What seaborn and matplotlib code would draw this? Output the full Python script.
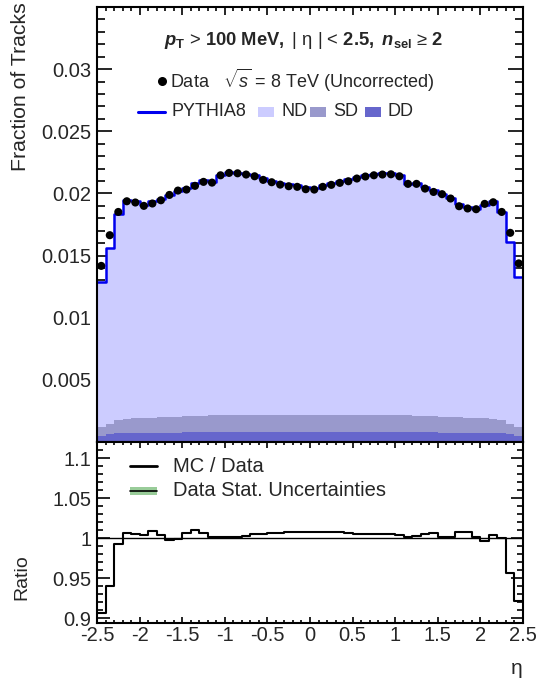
import numpy as np
import pandas as pd
import matplotlib
matplotlib.use("Agg")
import matplotlib.pyplot as plt
from matplotlib.patches import Rectangle
from matplotlib.lines import Line2D
import seaborn as sns

# ---------------- data ----------------
eta_lo, eta_hi, n_bins = -2.5, 2.5, 50

data_frac = [0.01417, 0.01664, 0.01851, 0.01937, 0.01927, 0.01900, 0.01919, 0.01945, 0.01988, 0.02023,
             0.02031, 0.02061, 0.02093, 0.02087, 0.02146, 0.02165, 0.02162, 0.02152, 0.02138, 0.02109,
             0.02090, 0.02071, 0.02058, 0.02053, 0.02034, 0.02031, 0.02053, 0.02069, 0.02085, 0.02098,
             0.02120, 0.02136, 0.02146, 0.02152, 0.02154, 0.02138, 0.02077, 0.02077, 0.02039, 0.02012,
             0.01994, 0.01959, 0.01897, 0.01879, 0.01873, 0.01916, 0.01929, 0.01851, 0.01683, 0.01437]

mc_total = [0.01285, 0.01564, 0.01837, 0.01949, 0.01937, 0.01908, 0.01936, 0.01953, 0.01984, 0.02021,
            0.02045, 0.02081, 0.02108, 0.02091, 0.02150, 0.02169, 0.02166, 0.02158, 0.02149, 0.02121,
            0.02103, 0.02086, 0.02074, 0.02069, 0.02050, 0.02047, 0.02069, 0.02085, 0.02102, 0.02113,
            0.02132, 0.02148, 0.02158, 0.02164, 0.02165, 0.02147, 0.02079, 0.02083, 0.02049, 0.02024,
            0.01996, 0.01963, 0.01912, 0.01894, 0.01875, 0.01910, 0.01937, 0.01851, 0.01609, 0.01325]

sd_frac = [0.00073, 0.00083, 0.00110, 0.00114, 0.00118, 0.00120, 0.00122, 0.00123, 0.00126, 0.00128,
           0.00129, 0.00132, 0.00134, 0.00136, 0.00138, 0.00140, 0.00140, 0.00140, 0.00140, 0.00140,
           0.00140, 0.00140, 0.00140, 0.00140, 0.00140, 0.00140, 0.00140, 0.00140, 0.00140, 0.00140,
           0.00140, 0.00140, 0.00140, 0.00140, 0.00140, 0.00138, 0.00136, 0.00134, 0.00132, 0.00129,
           0.00128, 0.00126, 0.00123, 0.00122, 0.00120, 0.00118, 0.00114, 0.00110, 0.00083, 0.00073]

dd_frac = [0.00048, 0.00064, 0.00070, 0.00071, 0.00072, 0.00073, 0.00074, 0.00075, 0.00075, 0.00076,
           0.00077, 0.00077, 0.00078, 0.00078, 0.00079, 0.00080, 0.00080, 0.00080, 0.00080, 0.00080,
           0.00080, 0.00080, 0.00080, 0.00080, 0.00080, 0.00080, 0.00080, 0.00080, 0.00080, 0.00080,
           0.00080, 0.00080, 0.00080, 0.00080, 0.00080, 0.00079, 0.00078, 0.00078, 0.00077, 0.00077,
           0.00076, 0.00075, 0.00075, 0.00074, 0.00073, 0.00072, 0.00071, 0.00070, 0.00064, 0.00048]

ratio_mc_data = [0.907, 0.940, 0.9925, 1.006, 1.005, 1.004, 1.009, 1.004, 0.998, 0.999,
                 1.007, 1.0095, 1.007, 1.002, 1.002, 1.002, 1.002, 1.003, 1.005, 1.0055,
                 1.006, 1.007, 1.008, 1.008, 1.008, 1.008, 1.008, 1.0075, 1.008, 1.007,
                 1.0055, 1.0055, 1.0055, 1.0055, 1.005, 1.004, 1.001, 1.003, 1.005, 1.006,
                 1.001, 1.002, 1.008, 1.008, 1.001, 0.9967, 1.004, 1.000, 0.956, 0.922]

x_ticks = [-2.5, -2, -1.5, -1, -0.5, 0, 0.5, 1, 1.5, 2, 2.5]
x_tick_labels = ["-2.5", "-2", "-1.5", "-1", "-0.5", "0", "0.5", "1", "1.5", "2", "2.5"]
y_ticks = [0.005, 0.01, 0.015, 0.02, 0.025, 0.03]
y_tick_labels = ["0.005", "0.01", "0.015", "0.02", "0.025", "0.03"]
r_ticks = [0.9, 0.95, 1.0, 1.05, 1.1]
r_tick_labels = ["0.9", "0.95", "1", "1.05", "1.1"]

# ---------------- style ----------------
sns.set_theme(style="ticks")
plt.rcParams["font.family"] = ["Liberation Sans", "DejaVu Sans"]
plt.rcParams["mathtext.fontset"] = "custom"
plt.rcParams["mathtext.rm"] = "Liberation Sans"
plt.rcParams["mathtext.it"] = "Liberation Sans:italic"
plt.rcParams["mathtext.bf"] = "Liberation Sans:bold"
try:
    plt.rcParams["mathtext.bfit"] = "Liberation Sans:bold:italic"
except Exception:
    pass

ND_C, SD_C, DD_C = "#ccccff", "#9999cc", "#6666cc"
MC_C = "#0000ee"
GREEN = "#99cc99"
FS = 14.5
LEG_FS = 13

bin_w = (eta_hi - eta_lo) / n_bins
edges = np.linspace(eta_lo, eta_hi, n_bins + 1)
centers = 0.5 * (edges[:-1] + edges[1:])
df = pd.DataFrame({
    "eta": centers,
    "data": data_frac,
    "mc": mc_total,
    "sd": sd_frac,
    "dd": dd_frac,
    "ratio": ratio_mc_data,
})
df["sd_dd"] = df["sd"] + df["dd"]
hist_kw = dict(binwidth=bin_w, binrange=(eta_lo, eta_hi), element="step")

W, H = 536, 681
fig = plt.figure(figsize=(W / 100, H / 100), dpi=100)
L, R = 97 / W, 523 / W
ax = fig.add_axes([L, 1 - 442 / H, R - L, (442 - 7) / H])
axr = fig.add_axes([L, 1 - 623 / H, R - L, (623 - 442) / H])

# ---------------- top panel ----------------
for col, c in [("mc", ND_C), ("sd_dd", SD_C), ("dd", DD_C)]:
    sns.histplot(data=df, x="eta", weights=col, fill=True, color=c, alpha=1.0,
                 linewidth=0, ax=ax, **hist_kw)
sns.histplot(data=df, x="eta", weights="mc", fill=False, color=MC_C, linewidth=1.8,
             ax=ax, **hist_kw)
sns.scatterplot(data=df, x="eta", y="data", color="black", s=34, edgecolor="none",
                ax=ax, zorder=6, legend=False)

ax.set_xlim(eta_lo, eta_hi)
ax.set_ylim(0, 0.035)
ax.set_xticks(x_ticks)
ax.set_xticklabels([])
ax.set_yticks(y_ticks, y_tick_labels)
ax.xaxis.set_minor_locator(matplotlib.ticker.MultipleLocator(0.1))
ax.yaxis.set_minor_locator(matplotlib.ticker.MultipleLocator(0.001))
ax.set_xlabel("")
ax.set_ylabel("")
ax.tick_params(axis="both", which="both", direction="in", top=True, right=True,
               labelsize=FS, width=1.2, color="black", pad=4)
ax.tick_params(axis="x", which="major", length=6)
ax.tick_params(axis="x", which="minor", length=3)
ax.tick_params(axis="y", which="major", length=11)
ax.tick_params(axis="y", which="minor", length=5.5)
for s in ax.spines.values():
    s.set_linewidth(1.5)
    s.set_color("black")

# header
ax.text(0.484, 0.924,
        r"$\mathbfit{p}_{\mathbf{T}}$ > $\mathbf{100\ MeV,}$ | η | < $\mathbf{2.5,}$ "
        r"$\mathbfit{n}_{\mathbf{sel}}$ ≥ $\mathbf{2}$",
        transform=ax.transAxes, ha="center", va="center", fontsize=13.2)

# legend line 1: Data
ax.scatter([0.153], [0.830], s=30, color="black", transform=ax.transAxes, clip_on=False, zorder=7)
ax.text(0.171, 0.830, r"Data   $\sqrt{s}$ = 8 TeV (Uncorrected)", transform=ax.transAxes,
        ha="left", va="center", fontsize=LEG_FS)
# legend line 2: PYTHIA8, ND, SD, DD
ax.add_line(Line2D([0.096, 0.160], [0.759, 0.759], color=MC_C, linewidth=2.2, transform=ax.transAxes))
ax.text(0.176, 0.759, "PYTHIA8", transform=ax.transAxes, ha="left", va="center", fontsize=LEG_FS)
for x0, xt, c, lab in [(0.378, 0.432, ND_C, "ND"), (0.500, 0.554, SD_C, "SD"),
                       (0.629, 0.683, DD_C, "DD")]:
    ax.add_patch(Rectangle((x0, 0.748), 0.038, 0.021, facecolor=c, edgecolor="none",
                           transform=ax.transAxes))
    ax.text(xt, 0.759, lab, transform=ax.transAxes, ha="left", va="center", fontsize=LEG_FS)

# ---------------- ratio panel ----------------
axr.axhline(1.0, color="black", linewidth=1.0, zorder=1)
sns.histplot(data=df, x="eta", weights="ratio", fill=False, color="black", linewidth=1.5,
             ax=axr, **hist_kw)
axr.set_xlim(eta_lo, eta_hi)
axr.set_ylim(0.894, 1.12)
axr.set_xticks(x_ticks, x_tick_labels)
axr.set_yticks(r_ticks, r_tick_labels)
axr.xaxis.set_minor_locator(matplotlib.ticker.MultipleLocator(0.1))
axr.yaxis.set_minor_locator(matplotlib.ticker.MultipleLocator(0.01))
axr.set_xlabel("")
axr.set_ylabel("")
axr.tick_params(axis="both", which="both", direction="in", top=True, right=True,
                labelsize=FS, width=1.2, color="black")
axr.tick_params(axis="x", which="major", length=4, pad=2)
axr.tick_params(axis="x", which="minor", length=2.2)
axr.tick_params(axis="y", which="major", length=9, pad=4)
axr.tick_params(axis="y", which="minor", length=4.5)
for s in axr.spines.values():
    s.set_linewidth(1.5)
    s.set_color("black")

axr.add_line(Line2D([0.077, 0.141], [0.867, 0.867], color="black", linewidth=2,
                    transform=axr.transAxes))
axr.text(0.178, 0.867, "MC / Data", transform=axr.transAxes, ha="left", va="center", fontsize=14.5)
axr.add_patch(Rectangle((0.077, 0.707), 0.064, 0.046, facecolor=GREEN, edgecolor="none",
                        transform=axr.transAxes))
axr.add_line(Line2D([0.077, 0.141], [0.730, 0.730], color="black", linewidth=1.2,
                    transform=axr.transAxes))
axr.text(0.178, 0.730, "Data Stat. Uncertainties", transform=axr.transAxes, ha="left",
         va="center", fontsize=14.5)

# axis titles
fig.text(21 / W, 1 - 2 / H, "Fraction of Tracks", rotation=90, ha="center", va="top", fontsize=15.3)
fig.text(22 / W, 1 - 577 / H, "Ratio", rotation=90, ha="center", va="center", fontsize=14)
fig.text(517 / W, 1 - 668 / H, "η", ha="center", va="center", fontsize=15)

fig.savefig("out.png", dpi=100)
